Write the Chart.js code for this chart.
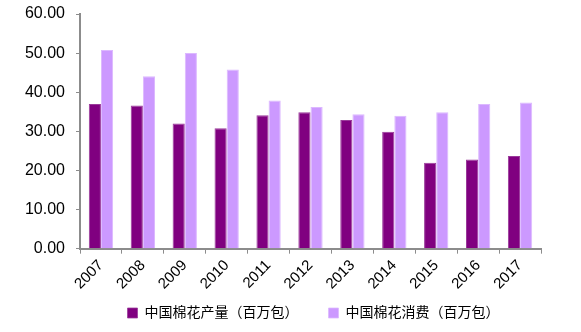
<!DOCTYPE html>
<html>
<head>
<meta charset="utf-8">
<script src="https://cdn.jsdelivr.net/npm/chart.js@4"></script>
<style>
  html, body { margin: 0; padding: 0; background: #fff; }
  #wrap { width: 581px; height: 332px; }
</style>
</head>
<body>
<div id="wrap"><canvas id="cottonChart"></canvas></div>
<script>
  const years = ["2007", "2008", "2009", "2010", "2011", "2012", "2013", "2014", "2015", "2016", "2017"];
  const production = [37.0, 36.6, 32.0, 30.8, 34.1, 34.9, 32.9, 29.9, 22.0, 22.8, 23.7];
  const consumption = [50.8, 44.1, 50.0, 45.8, 37.9, 36.2, 34.4, 34.0, 34.9, 37.0, 37.4];
  const seriesNames = ["中国棉花产量（百万包）", "中国棉花消费（百万包）"];

  const fontFamily = 'Arial, "Liberation Sans", "Noto Sans CJK SC", sans-serif';
  const axisColor = "#8c8c8c";

  // the wide item padding would also push the legend down, so give it a
  // box of its own and nudge it right, where it sits in the original
  const placeLegend = {
    id: "placeLegend",
    afterLayout(chart) {
      const lg = chart.legend;
      lg.left += 43;
      lg.right += 43;
      lg.top = 276;
      lg.bottom = 332;
      lg.height = lg.bottom - lg.top;
    }
  };

  new Chart(document.getElementById("cottonChart"), {
    type: "bar",
    data: {
      labels: years,
      datasets: [
        {
          label: seriesNames[0],
          data: production,
          backgroundColor: "#800080",
          borderColor: "#9a3a9a",
          borderWidth: { top: 1, left: 1, right: 1, bottom: 0 },
          categoryPercentage: 0.58,
          barPercentage: 1.0
        },
        {
          label: seriesNames[1],
          data: consumption,
          backgroundColor: "#cc99ff",
          borderColor: "#dcb8ff",
          borderWidth: { top: 1, left: 1, right: 1, bottom: 0 },
          categoryPercentage: 0.58,
          barPercentage: 1.0
        }
      ]
    },
    plugins: [placeLegend],
    options: {
      responsive: true,
      maintainAspectRatio: false,
      animation: false,
      layout: { padding: { top: 0, right: 40, left: 0, bottom: 14 } },
      plugins: {
        tooltip: { enabled: false },
        legend: {
          position: "bottom",
          maxHeight: 22,
          labels: {
            boxWidth: 10,
            boxHeight: 10,
            padding: 30,
            color: "#000",
            font: { family: fontFamily, size: 14 }
          }
        }
      },
      scales: {
        x: {
          grid: {
            drawOnChartArea: false,
            drawTicks: true,
            tickLength: 5,
            color: axisColor
          },
          border: { color: axisColor, width: 2 },
          ticks: {
            color: "#000",
            maxRotation: 45,
            minRotation: 45,
            padding: 3,
            font: { family: fontFamily, size: 15 }
          }
        },
        y: {
          min: 0,
          max: 60,
          afterFit: (scale) => {
            scale.width = 80;
            scale.paddingTop = 14;
          },
          grid: {
            drawOnChartArea: false,
            drawTicks: true,
            tickLength: 4,
            color: axisColor
          },
          border: { color: axisColor, width: 2 },
          ticks: {
            stepSize: 10,
            color: "#000",
            padding: 11,
            font: { family: fontFamily, size: 16 },
            callback: (v) => Number(v).toFixed(2)
          }
        }
      }
    }
  });
</script>
</body>
</html>
